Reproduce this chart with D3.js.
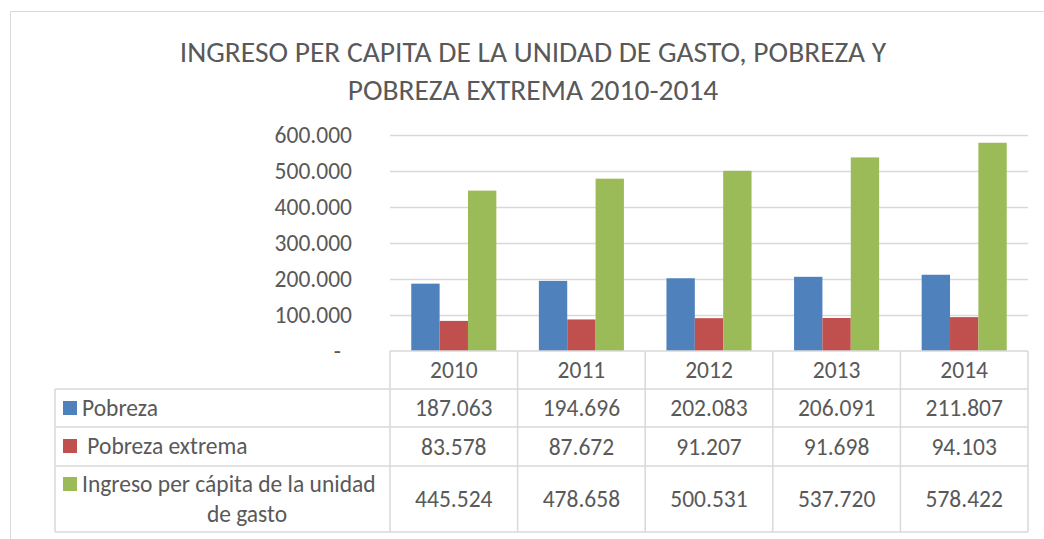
<!DOCTYPE html>
<html>
<head>
<meta charset="utf-8">
<script src="https://cdn.jsdelivr.net/npm/d3@7"></script>
<style>
  body { margin: 0; background: #fff; }
  svg { display: block; font-family: Carlito, "Open Sans", "Liberation Sans", sans-serif; }
</style>
</head>
<body>
<script>
const years = ["2010", "2011", "2012", "2013", "2014"];
const pobreza = [187063, 194696, 202083, 206091, 211807];
const extrema = [83578, 87672, 91207, 91698, 94103];
const ingreso = [445524, 478658, 500531, 537720, 578422];
const colors = ["#4F81BD", "#C0504D", "#9BBB59"];
const yTicks = [0, 100000, 200000, 300000, 400000, 500000, 600000];
const titleLines = ["INGRESO PER CAPITA DE LA UNIDAD DE GASTO, POBREZA Y", "POBREZA EXTREMA 2010-2014"];

const series = [pobreza, extrema, ingreso];
const width = 1044, height = 539;
const textColor = "#595959", lineColor = "#D9D9D9";
const fs = "23.5px";

const loc = d3.formatLocale({decimal: ",", thousands: ".", grouping: [3], currency: ["$", ""]});
const fmt = loc.format(",");

const svg = d3.select("body").append("svg")
    .attr("width", width)
    .attr("height", height);

// chart frame (only top and left edges visible)
svg.append("path")
    .attr("d", `M10.5,${height} V11.5 H${width}`)
    .attr("fill", "none")
    .attr("stroke", lineColor);

// title
svg.append("g").selectAll("text")
  .data(titleLines)
  .join("text")
    .attr("x", 533)
    .attr("y", (d, i) => 62 + i * 38)
    .attr("text-anchor", "middle")
    .attr("fill", textColor)
    .style("font-size", "29.5px")
    .text(d => d);

const plotLeft = 390, plotRight = 1028, plotTop = 135, plotBottom = 351;

const x = d3.scaleBand().domain(years).range([plotLeft, plotRight]);
const y = d3.scaleLinear().domain([0, 600000]).range([plotBottom, plotTop]);
const bw = x.bandwidth() / 4.5;
const xs = d3.scaleBand().domain(d3.range(3)).range([(x.bandwidth() - 3 * bw) / 2, (x.bandwidth() + 3 * bw) / 2]);

// gridlines
svg.append("g").selectAll("line")
  .data(yTicks.slice(1))
  .join("line")
    .attr("x1", plotLeft).attr("x2", plotRight)
    .attr("y1", d => Math.round(y(d)) + 0.5).attr("y2", d => Math.round(y(d)) + 0.5)
    .attr("stroke", lineColor)
    .attr("stroke-width", 1.5);

// y axis labels
svg.append("g").selectAll("text")
  .data(yTicks)
  .join("text")
    .attr("x", d => d === 0 ? 341 : 352)
    .attr("y", d => y(d))
    .attr("dy", "0.35em")
    .attr("text-anchor", "end")
    .attr("fill", textColor)
    .style("font-size", fs)
    .text(d => d === 0 ? "-" : fmt(d));

// bars
const groups = svg.append("g").selectAll("g")
  .data(years)
  .join("g")
    .attr("transform", d => `translate(${x(d)},0)`);

groups.selectAll("rect")
  .data((d, i) => series.map((s, k) => ({k, v: s[i]})))
  .join("rect")
    .attr("x", d => xs(d.k))
    .attr("width", xs.bandwidth())
    .attr("y", d => y(d.v))
    .attr("height", d => y(0) - y(d.v))
    .attr("fill", d => colors[d.k]);

// data table
const tableLeft = 55;
const rowY = [351, 389, 427, 466, 532];
const tbl = svg.append("g")
    .attr("stroke", lineColor)
    .attr("stroke-width", 1.5)
    .attr("fill", "none");

tbl.append("line")
    .attr("x1", plotLeft).attr("x2", plotRight)
    .attr("y1", rowY[0]).attr("y2", rowY[0]);
rowY.slice(1).forEach(ry => {
  tbl.append("line")
      .attr("x1", tableLeft).attr("x2", plotRight)
      .attr("y1", ry).attr("y2", ry);
});
tbl.append("line")
    .attr("x1", tableLeft).attr("x2", tableLeft)
    .attr("y1", rowY[1]).attr("y2", rowY[4]);
years.forEach(yr => {
  tbl.append("line")
      .attr("x1", x(yr)).attr("x2", x(yr))
      .attr("y1", rowY[0]).attr("y2", rowY[4]);
});
tbl.append("line")
    .attr("x1", plotRight).attr("x2", plotRight)
    .attr("y1", rowY[0]).attr("y2", rowY[4]);

// header years
svg.append("g").selectAll("text")
  .data(years)
  .join("text")
    .attr("x", d => x(d) + x.bandwidth() / 2)
    .attr("y", (rowY[0] + rowY[1]) / 2)
    .attr("dy", "0.35em")
    .attr("text-anchor", "middle")
    .attr("fill", textColor)
    .style("font-size", fs)
    .text(d => d);

// values
series.forEach((s, k) => {
  const cy = (rowY[k + 1] + rowY[k + 2]) / 2;
  svg.append("g").selectAll("text")
    .data(s)
    .join("text")
      .attr("x", (d, i) => x(years[i]) + x.bandwidth() / 2)
      .attr("y", cy)
      .attr("dy", "0.35em")
      .attr("text-anchor", "middle")
      .attr("fill", textColor)
      .style("font-size", fs)
      .text(d => fmt(d));
});

// legend keys + row labels
const labelRows = [
  {lines: ["Pobreza"], ys: [408]},
  {lines: [" Pobreza extrema"], ys: [446]},
  {lines: ["Ingreso per cápita de la unidad", "de gasto"], ys: [484, 514]}
];
labelRows.forEach((r, k) => {
  svg.append("rect")
      .attr("x", 63).attr("y", r.ys[0] - 7)
      .attr("width", 14).attr("height", 14)
      .attr("fill", colors[k]);
  r.lines.forEach((ln, j) => {
    svg.append("text")
        .attr("x", j === 0 ? 82 : 247)
        .attr("y", r.ys[j])
        .attr("dy", "0.35em")
        .attr("text-anchor", j === 0 ? "start" : "middle")
        .attr("fill", textColor)
        .style("font-size", fs)
        .style("white-space", "pre")
        .text(ln);
  });
});
</script>
</body>
</html>
